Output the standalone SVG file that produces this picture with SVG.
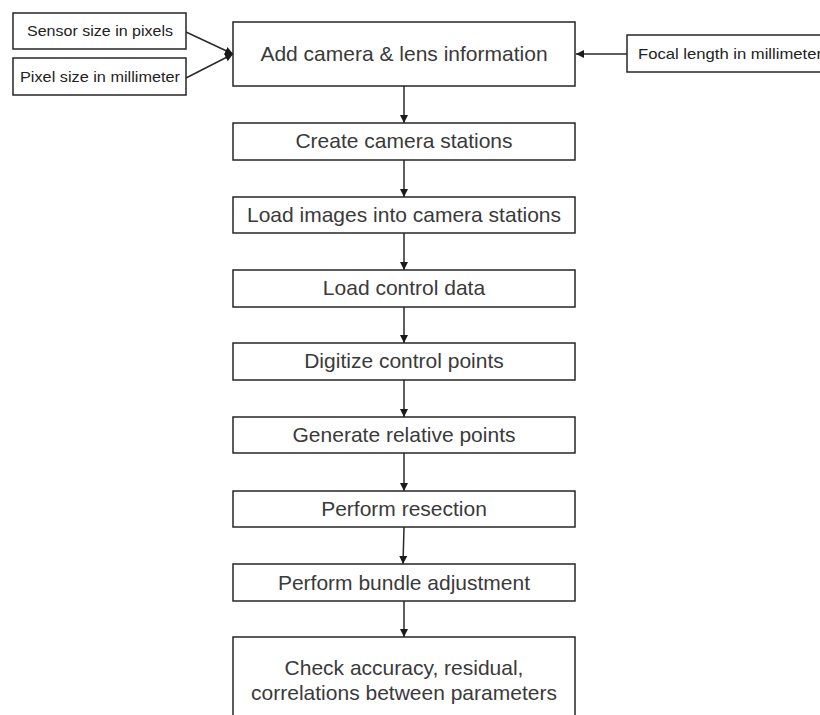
<svg xmlns="http://www.w3.org/2000/svg" width="820" height="715" viewBox="0 0 820 715">
<defs>
<style>
.box{fill:#fff;stroke:#262626;stroke-width:1.5}
.t{font-family:"Liberation Sans",Arial,sans-serif;font-size:21px;fill:#3a3a3a;text-anchor:middle}
.s{font-family:"Liberation Sans",Arial,sans-serif;font-size:15px;fill:#222}
.c{stroke:#2a2a2a;stroke-width:1.5;fill:none}
</style>
<marker id="ah" viewBox="0 0 10 10" refX="10" refY="5" markerWidth="8" markerHeight="8" markerUnits="userSpaceOnUse" orient="auto">
<path d="M0,0 L10,5 L0,10 z" fill="#1a1a1a"/>
</marker>
</defs>
<rect width="820" height="715" fill="#fff"/>
<g id="connectors">
<path class="c" d="M186,32 L233,54" marker-end="url(#ah)"/>
<path class="c" d="M186,78 L233,54" marker-end="url(#ah)"/>
<path class="c" d="M627,54 L576,54" marker-end="url(#ah)"/>
<path class="c" d="M404,86 L404,123" marker-end="url(#ah)"/>
<path class="c" d="M404,160 L404,197" marker-end="url(#ah)"/>
<path class="c" d="M404,233 L404,270" marker-end="url(#ah)"/>
<path class="c" d="M404,307 L404,343" marker-end="url(#ah)"/>
<path class="c" d="M404,380 L404,417" marker-end="url(#ah)"/>
<path class="c" d="M404,453 L404,491" marker-end="url(#ah)"/>
<path class="c" d="M404,527 L403,564" marker-end="url(#ah)"/>
<path class="c" d="M404,601 L404,637" marker-end="url(#ah)"/>
</g>
<g id="sensor"><rect class="box" x="13" y="13" width="173" height="36"/><text class="s" x="27" y="36" textLength="146" lengthAdjust="spacingAndGlyphs">Sensor size in pixels</text></g>
<g id="pixel"><rect class="box" x="13" y="58" width="173" height="37"/><text class="s" x="20" y="82" textLength="160" lengthAdjust="spacingAndGlyphs">Pixel size in millimeter</text></g>
<g id="focal"><rect class="box" x="627" y="35" width="200" height="37"/><text class="s" x="638" y="59" textLength="184" lengthAdjust="spacingAndGlyphs">Focal length in millimeter</text></g>
<g id="add"><rect class="box" x="233" y="22" width="342" height="64"/><text class="t" x="404" y="61">Add camera &amp; lens information</text></g>
<g id="create"><rect class="box" x="233" y="123" width="342" height="37"/><text class="t" x="404" y="148">Create camera stations</text></g>
<g id="load-images"><rect class="box" x="233" y="197" width="342" height="36"/><text class="t" x="404" y="222">Load images into camera stations</text></g>
<g id="load-control"><rect class="box" x="233" y="270" width="342" height="37"/><text class="t" x="404" y="295">Load control data</text></g>
<g id="digitize"><rect class="box" x="233" y="343" width="342" height="37"/><text class="t" x="404" y="368">Digitize control points</text></g>
<g id="generate"><rect class="box" x="233" y="417" width="342" height="36"/><text class="t" x="404" y="442">Generate relative points</text></g>
<g id="resection"><rect class="box" x="233" y="491" width="342" height="36"/><text class="t" x="404" y="516">Perform resection</text></g>
<g id="bundle"><rect class="box" x="233" y="564" width="342" height="37"/><text class="t" x="404" y="590">Perform bundle adjustment</text></g>
<g id="check"><rect class="box" x="233" y="637" width="342" height="100"/><text class="t" x="404" y="675">Check accuracy, residual,</text><text class="t" x="404" y="700">correlations between parameters</text></g>
</svg>
